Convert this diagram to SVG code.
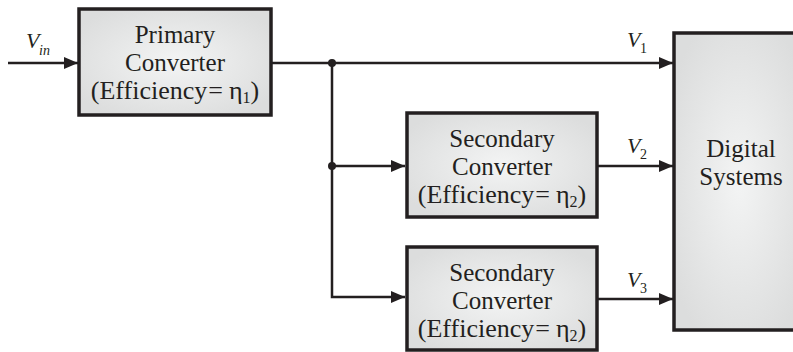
<svg xmlns="http://www.w3.org/2000/svg" width="793" height="352" viewBox="0 0 793 352">
<style>
.box{stroke:#231f20;stroke-width:3.5;fill:url(#g)}
.t{font-family:'Liberation Serif','DejaVu Serif','Times New Roman',serif;font-size:25px;fill:#231f20;text-anchor:middle}
.e{font-size:26px}
.sub{font-size:16px}
.v{font-family:'Liberation Serif','DejaVu Serif','Times New Roman',serif;font-style:italic;font-size:22px;fill:#231f20}
.s{font-family:'Liberation Serif','DejaVu Serif','Times New Roman',serif;font-size:14px;fill:#231f20}
.w{stroke:#231f20;stroke-width:2.5;fill:none}
</style>
<defs>
<radialGradient id="g" cx="0.5" cy="0.5" r="0.6">
<stop offset="0" stop-color="#f3f4f4"/>
<stop offset="1" stop-color="#dcdddd"/>
</radialGradient>
<marker id="a" markerWidth="14" markerHeight="12" refX="14" refY="6" orient="auto" markerUnits="userSpaceOnUse">
<path d="M0,0 L14,6 L0,12 Z" fill="#231f20"/>
</marker>
</defs>
<g id="connectors">
<line class="w" x1="8" y1="63" x2="78" y2="63" marker-end="url(#a)"/>
<line class="w" x1="271" y1="63" x2="673" y2="63" marker-end="url(#a)"/>
<polyline class="w" points="332,63 332,297 405,297" marker-end="url(#a)"/>
<line class="w" x1="332" y1="166" x2="405" y2="166" marker-end="url(#a)"/>
<line class="w" x1="597" y1="166" x2="673" y2="166" marker-end="url(#a)"/>
<line class="w" x1="597" y1="299" x2="673" y2="299" marker-end="url(#a)"/>
<circle cx="332" cy="63" r="4" fill="#231f20"/>
<circle cx="332" cy="166" r="4" fill="#231f20"/>
<text class="v" x="26" y="48">V</text><text class="v" style="font-size:14px" x="39" y="55">in</text>
<text class="v" x="627" y="47">V</text><text class="s" x="640" y="53">1</text>
<text class="v" x="627" y="153">V</text><text class="s" x="640" y="159">2</text>
<text class="v" x="627" y="287">V</text><text class="s" x="640" y="293">3</text>
</g>
<g id="primary">
<rect class="box" x="79" y="9" width="192" height="106"/>
<text class="t" x="175" y="43">Primary</text>
<text class="t" x="175" y="71">Converter</text>
<text class="t e" x="175" y="99">(Efficiency<tspan dx="1">=</tspan><tspan dx="6">η</tspan><tspan class="sub" dy="4">1</tspan><tspan dy="-4">)</tspan></text>
</g>
<g id="secondary1">
<rect class="box" x="407" y="113" width="190" height="104"/>
<text class="t" x="502" y="147">Secondary</text>
<text class="t" x="502" y="175">Converter</text>
<text class="t e" x="502" y="203">(Efficiency<tspan dx="1">=</tspan><tspan dx="6">η</tspan><tspan class="sub" dy="4">2</tspan><tspan dy="-4">)</tspan></text>
</g>
<g id="secondary2">
<rect class="box" x="407" y="247" width="190" height="103"/>
<text class="t" x="502" y="281">Secondary</text>
<text class="t" x="502" y="309">Converter</text>
<text class="t e" x="502" y="337">(Efficiency<tspan dx="1">=</tspan><tspan dx="6">η</tspan><tspan class="sub" dy="4">2</tspan><tspan dy="-4">)</tspan></text>
</g>
<g id="digital">
<rect class="box" x="674" y="33" width="130" height="297"/>
<text class="t" x="741" y="157">Digital</text>
<text class="t" x="741" y="185">Systems</text>
</g>
</svg>
